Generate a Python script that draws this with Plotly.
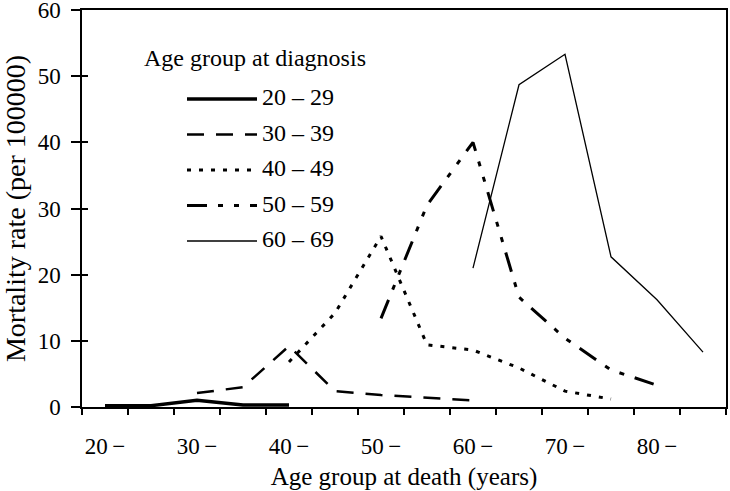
import plotly.graph_objects as go

# age group at death (lower bound of each 5-year group) and axis labels
death_age = [20, 25, 30, 35, 40, 45, 50, 55, 60, 65, 70, 75, 80, 85]
label_ages = [20, 30, 40, 50, 60, 70, 80]
label_text = ["20\u2009\u2212", "30\u2009\u2212", "40\u2009\u2212", "50\u2009\u2212",
              "60\u2009\u2212", "70\u2009\u2212", "80\u2009\u2212"]

# mortality rate per 100000, by age group at diagnosis
diag_groups = ["20 – 29", "30 – 39", "40 – 49", "50 – 59", "60 – 69"]
rate_20_29 = [0.2, 0.2, 1.0, 0.3, 0.3, None, None, None, None, None, None, None, None, None]
rate_30_39 = [None, None, 2.1, 3.0, 9.2, 2.4, 1.8, 1.4, 1.0, None, None, None, None, None]
rate_40_49 = [None, None, None, None, 6.8, 14.2, 25.8, 9.4, 8.6, 5.9, 2.4, 1.2, None, None]
rate_50_59 = [None, None, None, None, None, None, 13.4, 30.5, 40.0, 16.6, 10.4, 5.6, 3.3, None]
rate_60_69 = [None, None, None, None, None, None, None, None, 21.0, 48.7, 53.3, 22.7, 16.2, 8.3]

series = [rate_20_29, rate_30_39, rate_40_49, rate_50_59, rate_60_69]
styles = [
    dict(width=3.5, dash="solid"),
    dict(width=2.5, dash="17px,12px"),
    dict(width=3, dash="4px,8px"),
    dict(width=3, dash="20px,11px,5px,11px,5px,11px"),
    dict(width=1.3, dash="solid"),
]

FONT = "Liberation Serif, Times New Roman, serif"

fig = go.Figure()
for name, vals, st in zip(diag_groups, series, styles):
    fig.add_trace(go.Scatter(x=death_age, y=vals, mode="lines", name=name,
                             line=dict(color="black", **st), showlegend=False))

# hand-drawn legend (long line samples like the original)
L, R, T, B = 82, 726, 10, 407
def px(x): return (x - L) / (R - L)
def py(y): return (B - y) / (B - T)

fig.add_annotation(text="Age group at diagnosis", xref="paper", yref="paper",
                   x=px(142), y=py(58), xanchor="left", yanchor="middle",
                   showarrow=False, font=dict(size=24, family=FONT, color="black"))
for i, (name, st) in enumerate(zip(diag_groups, styles)):
    yy = 97 + i * 35.5
    fig.add_shape(type="line", xref="paper", yref="paper",
                  x0=px(187), x1=px(257), y0=py(yy + 2), y1=py(yy + 2),
                  line=dict(color="black", **st))
    fig.add_annotation(text=name, xref="paper", yref="paper",
                       x=px(260), y=py(yy), xanchor="left", yanchor="middle",
                       showarrow=False, font=dict(size=24, family=FONT, color="black"))

fig.update_layout(
    width=730, height=491,
    margin=dict(l=L, r=730 - R, t=T, b=491 - B, autoexpand=False),
    paper_bgcolor="white", plot_bgcolor="white",
    font=dict(family=FONT, size=23, color="black"),
    xaxis=dict(range=[17.5, 87.5], tickmode="array", tickvals=label_ages, ticktext=label_text,
               ticks="", tickfont=dict(family=FONT, size=23), ticklabelstandoff=18,
               automargin=False,
               minor=dict(tick0=22.5, dtick=5, ticks="outside", ticklen=6,
                          tickwidth=1.5, tickcolor="black", showgrid=False),
               showline=True, linecolor="black", linewidth=1.5,
               mirror=True, showgrid=False, zeroline=False,
               title=dict(text="Age group at death (years)",
                          font=dict(family=FONT, size=25), standoff=15)),
    yaxis=dict(range=[0, 60], tickvals=[0, 10, 20, 30, 40, 50, 60],
               ticks="outside", ticklen=9, tickwidth=1.5, tickcolor="black",
               tickfont=dict(family=FONT, size=23), ticklabeloverflow="allow",
               ticklabelstandoff=6, automargin=False,
               showline=True, linecolor="black", linewidth=1.5, mirror=True,
               showgrid=False, zeroline=False,
               title=dict(text="Mortality rate (per 100000)",
                          font=dict(family=FONT, size=28), standoff=5)),
    yaxis2=dict(range=[0, 60], overlaying="y", tickvals=[0, 10, 20, 30, 40, 50, 60],
                ticks="inside", ticklen=6, tickwidth=1.5, tickcolor="black",
                showticklabels=False, showgrid=False, zeroline=False, showline=False,
                automargin=False),
)
fig.add_trace(go.Scatter(x=[None], y=[None], yaxis="y2", showlegend=False, hoverinfo="skip"))

fig.write_html("out.html", config={"displayModeBar": False},
               post_script="document.body.style.margin='0';")
